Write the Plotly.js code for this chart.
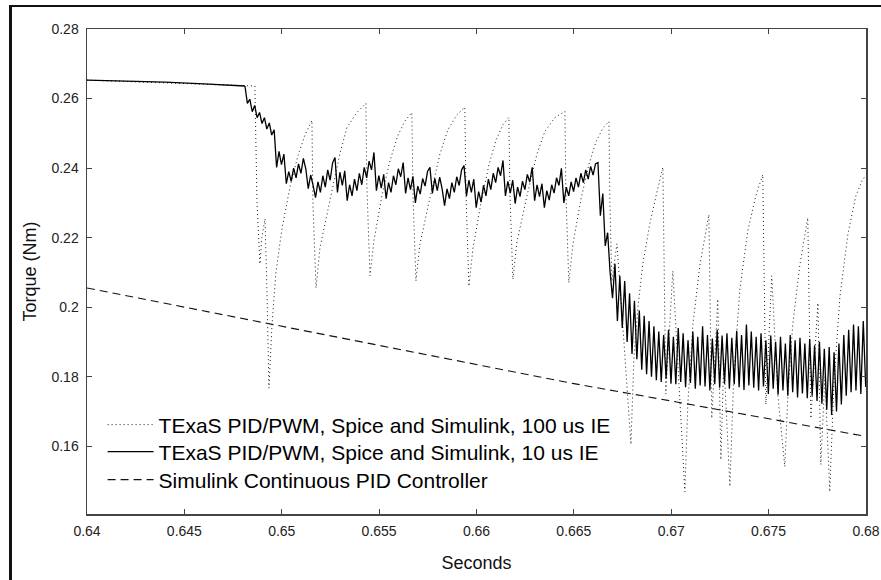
<!DOCTYPE html>
<html><head><meta charset="utf-8">
<script src="https://cdn.plot.ly/plotly-3.0.1.min.js"></script>
<style>
html,body{margin:0;padding:0;background:#fff;overflow:hidden;width:881px;height:580px;}
#chart{position:absolute;left:0;top:0;width:881px;height:580px;}
#frame{position:absolute;left:9px;top:5px;width:2000px;height:2000px;border-left:3px solid #111;border-top:2px solid #111;pointer-events:none;}
</style></head><body>
<div id="chart"></div><div id="frame"></div>
<script>
// X ticks
var xTickVals = [0.64, 0.645, 0.65, 0.655, 0.66, 0.665, 0.67, 0.675, 0.68];
var xTickText = ["0.64", "0.645", "0.65", "0.655", "0.66", "0.665", "0.67", "0.675", "0.68"];
// Y ticks
var yTickVals = [0.16, 0.18, 0.2, 0.22, 0.24, 0.26, 0.28];
var yTickText = ["0.16", "0.18", "0.2", "0.22", "0.24", "0.26", "0.28"];

// Series names
var names = ["TExaS PID/PWM, Spice and Simulink, 100 us IE",
             "TExaS PID/PWM, Spice and Simulink, 10 us IE",
             "Simulink Continuous PID Controller"];

// Dotted series: 100 us IE
var dotT = [0.64, 0.64426, 0.64862,
  0.64873, 0.64888, 0.64898, 0.64914, 0.64924, 0.64934, 0.64950, 0.64970, 0.65001, 0.65042, 0.65083, 0.65119, 0.65155,
  0.65160, 0.65176, 0.65196, 0.65247, 0.65299, 0.65335, 0.65386, 0.65432,
  0.65437, 0.65453, 0.65473, 0.65514, 0.65555, 0.65597, 0.65632, 0.65668,
  0.65674, 0.65689, 0.65709, 0.65761, 0.65812, 0.65853, 0.65899, 0.65940,
  0.65946, 0.65961, 0.65982, 0.66023, 0.66064, 0.66100, 0.66136, 0.66166,
  0.66172, 0.66187, 0.66207, 0.66259, 0.66310, 0.66351, 0.66402, 0.66454,
  0.66459, 0.66474, 0.66495, 0.66536, 0.66577, 0.66613, 0.66649, 0.66680,
  0.66685, 0.66695, 0.66721, 0.66757, 0.66793, 0.66808, 0.66829, 0.66854, 0.66890, 0.66926, 0.66957,
  0.66972, 0.67008, 0.67070, 0.67085, 0.67111, 0.67147, 0.67193,
  0.67208, 0.67239, 0.67255, 0.67270, 0.67301, 0.67321, 0.67352, 0.67393, 0.67434, 0.67470,
  0.67486, 0.67516, 0.67547, 0.67583, 0.67599, 0.67624, 0.67660, 0.67701,
  0.67717, 0.67753, 0.67768, 0.67789, 0.67814, 0.67835, 0.67866, 0.67907, 0.67948, 0.67984, 0.68];
var dotV = [0.2653, 0.2645, 0.2636,
  0.2300, 0.2124, 0.2200, 0.2254, 0.2050, 0.1767, 0.1950, 0.2100, 0.2225, 0.2345, 0.2435, 0.2495, 0.2537,
  0.2300, 0.2055, 0.2170, 0.2306, 0.2442, 0.2517, 0.2560, 0.2586,
  0.2350, 0.2090, 0.2190, 0.2320, 0.2420, 0.2495, 0.2535, 0.2560,
  0.2320, 0.2075, 0.2180, 0.2315, 0.2440, 0.2510, 0.2553, 0.2575,
  0.2330, 0.2060, 0.2170, 0.2300, 0.2410, 0.2480, 0.2525, 0.2546,
  0.2320, 0.2080, 0.2185, 0.2320, 0.2440, 0.2505, 0.2545, 0.2563,
  0.2330, 0.2070, 0.2180, 0.2310, 0.2410, 0.2475, 0.2515, 0.2534,
  0.2300, 0.2075, 0.2182, 0.1900, 0.1605, 0.1850, 0.2000, 0.2124, 0.2240, 0.2330, 0.2402,
  0.1750, 0.2104, 0.1469, 0.1720, 0.1950, 0.2120, 0.2266,
  0.1680, 0.2023, 0.1561, 0.1850, 0.1484, 0.1800, 0.2050, 0.2220, 0.2320, 0.2381,
  0.1720, 0.2090, 0.1750, 0.1541, 0.1750, 0.1950, 0.2120, 0.2257,
  0.1680, 0.2012, 0.1547, 0.1800, 0.1469, 0.1780, 0.2030, 0.2210, 0.2320, 0.2370, 0.2375];

// Solid series: 10 us IE (initial plateau)
var solidFlatT = [0.64, 0.642, 0.644, 0.646, 0.64811];
var solidFlatV = [0.2653, 0.2651, 0.2647, 0.2642, 0.2636];
// Solid series: sampled every 0.125 ms from 0.64811 s
var solidStart = 0.64811;
var solidStep = 0.000125;
var solidV = [
  0.2636, 0.2586, 0.2598, 0.2562, 0.2580, 0.2545, 0.2560, 0.2528, 0.2545, 0.2512, 0.2530, 0.2495, 0.2510,
  0.2402, 0.2448, 0.2410, 0.2440,
  0.2355, 0.2390, 0.2362, 0.2400, 0.2372, 0.2412, 0.2385, 0.2428, 0.2398,
  0.2341, 0.2380, 0.2350,
  0.2315, 0.2360, 0.2330, 0.2378, 0.2345, 0.2395, 0.2365, 0.2415, 0.2430,
  0.2330, 0.2388, 0.2350, 0.2392,
  0.2306, 0.2352, 0.2320, 0.2368, 0.2335, 0.2385, 0.2352, 0.2402, 0.2372, 0.2420, 0.2395, 0.2445,
  0.2335, 0.2378, 0.2342, 0.2382,
  0.2312, 0.2358, 0.2330, 0.2378, 0.2352, 0.2398, 0.2375, 0.2416,
  0.2327, 0.2372, 0.2338, 0.2376,
  0.2300, 0.2348, 0.2325, 0.2370, 0.2348, 0.2390, 0.2402,
  0.2327, 0.2370, 0.2335, 0.2374, 0.2340,
  0.2292, 0.2340, 0.2312, 0.2358, 0.2330, 0.2375, 0.2350, 0.2395, 0.2407,
  0.2320, 0.2365, 0.2330, 0.2368,
  0.2286, 0.2332, 0.2302, 0.2350, 0.2320, 0.2368, 0.2338, 0.2385, 0.2358, 0.2402, 0.2378, 0.2422,
  0.2320, 0.2362, 0.2328, 0.2365,
  0.2298, 0.2345, 0.2318, 0.2362, 0.2338, 0.2382, 0.2360, 0.2402,
  0.2306, 0.2352, 0.2318, 0.2355,
  0.2286, 0.2335, 0.2308, 0.2352, 0.2328, 0.2372, 0.2350, 0.2399,
  0.2300, 0.2345, 0.2320, 0.2360, 0.2332, 0.2372, 0.2345, 0.2385, 0.2358, 0.2395, 0.2368, 0.2405, 0.2380, 0.2412, 0.2416,
  0.2263, 0.2327, 0.2176, 0.2214,
  0.2100, 0.2026, 0.2125, 0.1960, 0.2090, 0.1940, 0.2075, 0.1900, 0.2040, 0.1865,
  0.2018, 0.1850, 0.1990, 0.1820, 0.1975, 0.1807, 0.1960, 0.1800, 0.1945, 0.1790,
  0.1930, 0.1785, 0.1920, 0.1795, 0.1935, 0.1780, 0.1915, 0.1778, 0.1940, 0.1785,
  0.1925, 0.1770, 0.1905, 0.1782, 0.1930, 0.1765, 0.1915, 0.1775, 0.1945, 0.1772,
  0.1920, 0.1760, 0.1910, 0.1778, 0.1935, 0.1768, 0.1918, 0.1780, 0.1925, 0.1765,
  0.1912, 0.1778, 0.1932, 0.1770, 0.1920, 0.1762, 0.1950, 0.1775, 0.1930, 0.1768,
  0.1915, 0.1760, 0.1925, 0.1772, 0.1905, 0.1750, 0.1918, 0.1765, 0.1900, 0.1748,
  0.1915, 0.1760, 0.1895, 0.1745, 0.1920, 0.1755, 0.1905, 0.1740, 0.1912, 0.1752,
  0.1895, 0.1738, 0.1908, 0.1745, 0.1890, 0.1730, 0.1900, 0.1722, 0.1880, 0.1705,
  0.1885, 0.1690, 0.1870, 0.1700, 0.1895, 0.1720, 0.1920, 0.1745, 0.1935, 0.1755,
  0.1950, 0.1760, 0.1945, 0.1750, 0.1960, 0.1770];

// Dashed series: Simulink continuous PID
var dashT = [0.64, 0.645, 0.65, 0.655, 0.66, 0.665, 0.67, 0.675, 0.68];
var dashV = [0.2055, 0.2000, 0.1945, 0.1888, 0.1833, 0.1780, 0.1730, 0.1680, 0.1628];

var FONT = "Liberation Sans, Arial, Helvetica, sans-serif";

var traces = [
  {x: dotT, y: dotV, mode: 'lines', name: names[0], legend: 'legend',
   line: {color: '#1a1a1a', width: 1, dash: '1px,3px'}},
  {x: solidFlatT, y: solidFlatV, mode: 'lines', name: names[1], legend: 'legend2', showlegend: false,
   line: {color: '#000', width: 1.3}},
  {x0: solidStart, dx: solidStep, y: solidV, mode: 'lines', name: names[1], legend: 'legend2',
   line: {color: '#000', width: 1.3}},
  {x: dashT, y: dashV, mode: 'lines', name: names[2], legend: 'legend3',
   line: {color: '#111', width: 1.1, dash: '8px,5px'}}
];

var axisCommon = {
  showline: true, linecolor: '#444', linewidth: 1.5, mirror: 'ticks',
  ticks: 'inside', ticklen: 5, tickwidth: 1, tickcolor: '#444',
  showgrid: false, zeroline: false,
  tickfont: {family: FONT, size: 14, color: '#222'}
};

function legendAt(yv) {
  return {
    x: 0.02, y: yv, xanchor: 'left', yanchor: 'middle',
    bgcolor: 'rgba(0,0,0,0)', borderwidth: 0, itemwidth: 46,
    font: {family: FONT, size: 21, color: '#000'}
  };
}

var layout = {
  width: 881, height: 580,
  margin: {l: 87, r: 15, t: 29, b: 66, pad: 0},
  paper_bgcolor: '#fff', plot_bgcolor: '#fff',
  showlegend: true,
  xaxis: Object.assign({}, axisCommon, {
    range: [0.64, 0.68], tickmode: 'array', tickvals: xTickVals, ticktext: xTickText,
    ticklabelstandoff: 4,
    title: {text: 'Seconds', font: {family: FONT, size: 18, color: '#111'}, standoff: 18}
  }),
  yaxis: Object.assign({}, axisCommon, {
    range: [0.1405, 0.28], tickmode: 'array', tickvals: yTickVals, ticktext: yTickText,
    ticklabelstandoff: 4,
    title: {text: 'Torque (Nm)', font: {family: FONT, size: 18, color: '#111'}, standoff: 10}
  }),
  legend: legendAt(0.1835),
  legend2: legendAt(0.1278),
  legend3: legendAt(0.0701)
};

Plotly.newPlot('chart', traces, layout, {staticPlot: true, displayModeBar: false});
</script></body></html>
